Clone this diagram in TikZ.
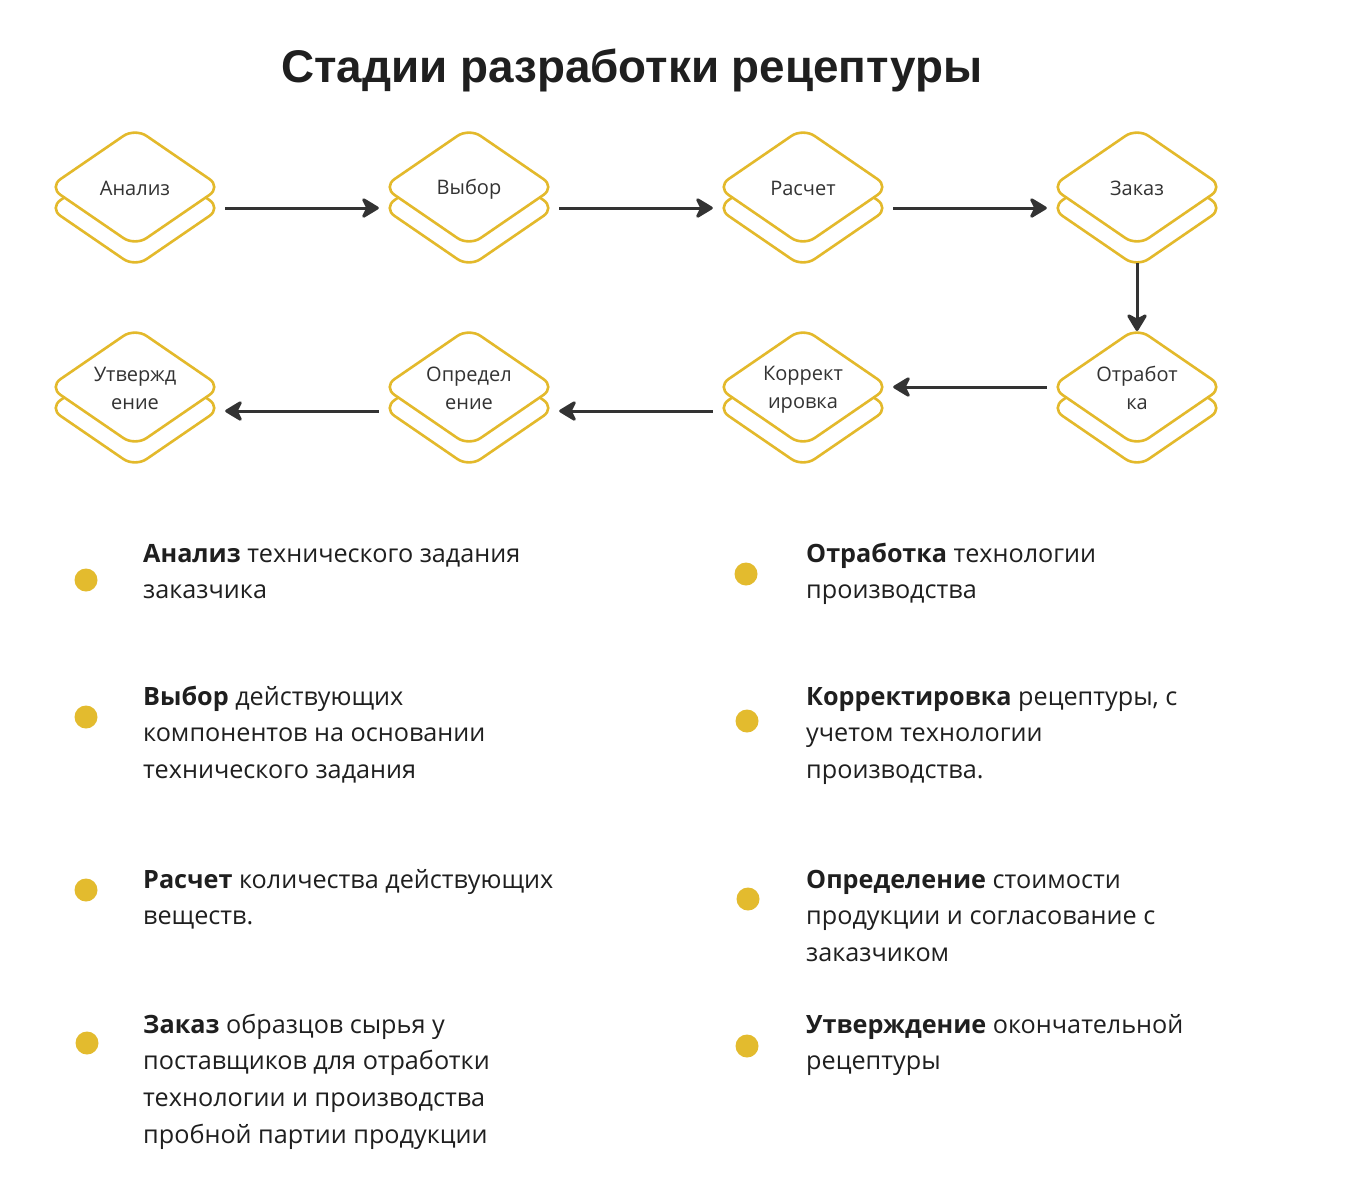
\documentclass[tikz,border=0pt]{standalone}
\usepackage{fontspec}
\setmainfont{Open Sans}
\newfontfamily\titlefont{Liberation Sans}
\usetikzlibrary{arrows.meta,calc}
\definecolor{gold}{HTML}{E3B92B}
\definecolor{dot}{HTML}{E3BB2E}
\definecolor{ink}{HTML}{1F1F1F}
\definecolor{arrowgray}{HTML}{333333}
\newcommand{\ls}{\rule[-4pt]{0pt}{20pt}}
\tikzset{
  dia/.style={draw=gold, line width=2.6pt, fill=white, rounded corners=14pt},
  stagelabel/.style={font=\fontsize{20}{28}\selectfont, text=arrowgray, align=center, minimum width=180pt, inner sep=0pt},
  arr/.style={draw=arrowgray, line width=3pt, -{Stealth[length=20pt,width=24pt,inset=6pt,round]}},
  bodytext/.style={font=\fontsize{25.2}{36.7}\selectfont, text=ink, align=left, anchor=base west, inner sep=0pt},
  bulletdot/.style={circle, fill=dot, minimum size=23pt, inner sep=0pt},
}
\newcommand{\stagebox}[4]{%
  \draw[dia] (#2-86,#3+21) -- ++(86,-59) -- ++(86,59) -- ++(-86,59) -- cycle;
  \draw[dia] (#2-86,#3) -- ++(86,-59) -- ++(86,59) -- ++(-86,59) -- cycle;
  \node[stagelabel] (#1) at (#2,#3+2) {#4};
}
\begin{document}
\begin{tikzpicture}[x=1pt,y=-1pt]
\useasboundingbox[fill=white] (0,0) rectangle (1346,1178);

\node[anchor=base west, inner sep=0pt, font=\titlefont\bfseries\fontsize{45.8}{50}\selectfont, text=ink] (title) at (281,82) {Стадии разработки рецептуры};

\stagebox{s1}{135}{187}{\ls Анализ}
\stagebox{s2}{469}{187}{\ls Выбор}
\stagebox{s3}{803}{187}{\ls Расчет}
\stagebox{s4}{1137}{187}{\ls Заказ}
\stagebox{s5}{1137}{387}{\ls Отработ\\\ls ка}
\stagebox{s6}{803}{387}{\ls Коррект\\\ls ировка}
\stagebox{s7}{469}{387}{\ls Определ\\\ls ение}
\stagebox{s8}{135}{387}{\ls Утвержд\\\ls ение}

\draw[arr] ([yshift=-19pt]s1.east) -- ([yshift=-19pt]s2.west);
\draw[arr] ([yshift=-19pt]s2.east) -- ([yshift=-19pt]s3.west);
\draw[arr] ([yshift=-19pt]s3.east) -- ([yshift=-19pt]s4.west);
\draw[arr] ($(s4)+(0,74)$) -- ($(s5)+(0,-58)$);
\draw[arr] ([yshift=2pt]s5.west) -- ([yshift=2pt]s6.east);
\draw[arr] ([yshift=-22pt]s6.west) -- ([yshift=-22pt]s7.east);
\draw[arr] ([yshift=-22pt]s7.west) -- ([yshift=-22pt]s8.east);

\node[bulletdot] (b1) at (86,580) {};
\node[bulletdot] (b2) at (86,717) {};
\node[bulletdot] (b3) at (86,890) {};
\node[bulletdot] (b4) at (87,1043) {};
\node[bulletdot] (b5) at (746,574) {};
\node[bulletdot] (b6) at (747,721) {};
\node[bulletdot] (b7) at (748,899) {};
\node[bulletdot] (b8) at (747,1046) {};

\node[bodytext] (t1) at (143,598.7) {\textbf{Анализ} технического задания\\заказчика};
\node[bodytext] (t2) at (143,778.4) {\textbf{Выбор} действующих\\компонентов на основании\\технического задания};
\node[bodytext] (t3) at (143,924.7) {\textbf{Расчет} количества действующих\\веществ.};
\node[bodytext] (t4) at (143,1143.1) {\textbf{Заказ} образцов сырья у\\поставщиков для отработки\\технологии и производства\\пробной партии продукции};
\node[bodytext] (t5) at (806,598.7) {\textbf{Отработка} технологии\\производства};
\node[bodytext] (t6) at (806,778.4) {\textbf{Корректировка} рецептуры, с\\учетом технологии\\производства.};
\node[bodytext] (t7) at (806,961.4) {\textbf{Определение} стоимости\\продукции и согласование с\\заказчиком};
\node[bodytext] (t8) at (806,1069.7) {\textbf{Утверждение} окончательной\\рецептуры};
\end{tikzpicture}
\end{document}
